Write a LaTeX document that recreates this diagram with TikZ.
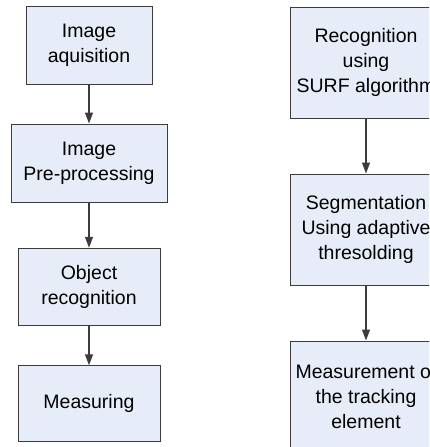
\documentclass[tikz,border=0pt]{standalone}
\usepackage{fontspec}
\setmainfont{Liberation Sans}
\usepackage{tikz}
\usetikzlibrary{positioning,arrows.meta}
\definecolor{boxfill}{RGB}{231,237,248}
\definecolor{boxline}{RGB}{60,60,60}
\tikzset{
  >={Triangle[length=11pt,width=8pt]},
  stage/.style n args={2}{draw=boxline, line width=1pt, fill=boxfill, align=center,
              font=\fontsize{19.5}{25}\selectfont, minimum width=#1, minimum height=#2,
              inner sep=2pt},
  flow/.style={->, line width=1.2pt, draw=boxline}
}
\begin{document}
\begin{tikzpicture}[x=1pt, y=-1pt]
\useasboundingbox (0,0) rectangle (429,447);
\clip (0,0) rectangle (429,447);
% left chain
\node[stage={126pt}{77.5pt}] (acq) at (89,45.5) {Image\\aquisition};
\node[stage={156pt}{78pt}] (pre) at (89,163) {Image\\Pre-processing};
\node[stage={142pt}{77.5pt}] (obj) at (89,287) {Object\\recognition};
\node[stage={142pt}{75.5pt}] (meas) at (89,403.5) {Measuring};
% right chain
\node[stage={152pt}{111pt}] (surf) at (366,62.5) {Recognition\\using\\SURF algorithm};
\node[stage={152pt}{111pt}] (seg) at (366,229.5) {Segmentation\\Using adaptive\\thresolding};
\node[stage={152pt}{111pt}] (track) at (366,396.5) {Measurement of\\the tracking\\element};
\draw[flow] (acq) -- (pre);
\draw[flow] (pre) -- (obj);
\draw[flow] (obj) -- (meas);
\draw[flow] (surf) -- (seg);
\draw[flow] (seg) -- (track);
\end{tikzpicture}
\end{document}
